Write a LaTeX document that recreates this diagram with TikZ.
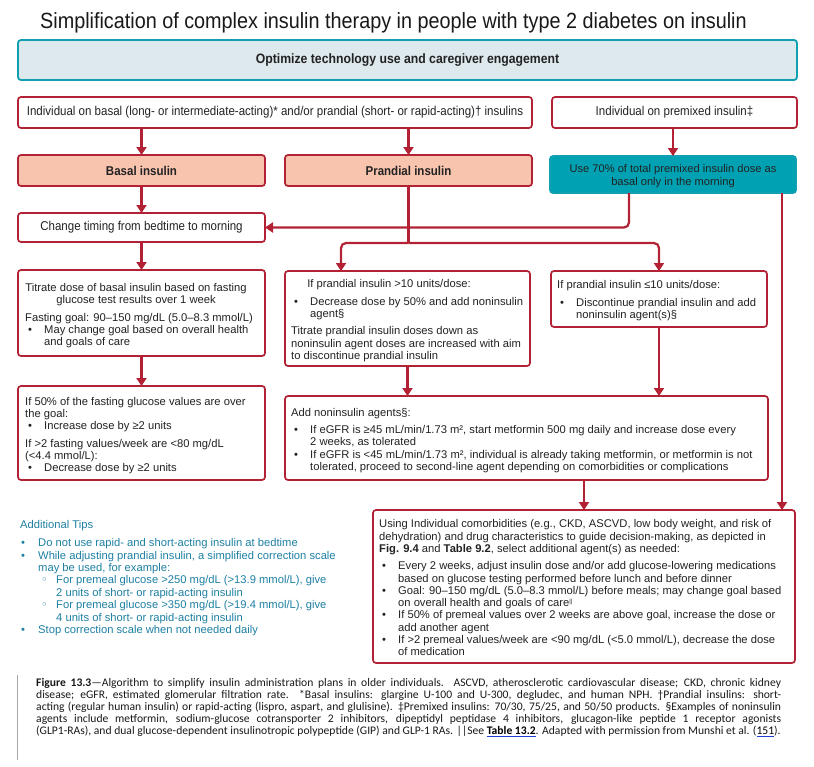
\documentclass[tikz,border=0pt]{standalone}
\usepackage{fontspec}
\setmainfont{Liberation Sans}
\newfontfamily\condfont[FakeStretch=0.9]{Liberation Sans}
\newfontfamily\capfont{Carlito}
\newfontfamily\djv{DejaVu Sans}
\usetikzlibrary{arrows.meta}
\definecolor{redb}{RGB}{178,34,52}
\definecolor{salmon}{RGB}{249,196,174}
\definecolor{tealf}{RGB}{0,161,178}
\definecolor{tealb}{RGB}{16,160,178}
\definecolor{optfill}{RGB}{222,233,238}
\definecolor{tipc}{RGB}{30,128,163}
\definecolor{txt}{RGB}{34,34,34}
\definecolor{linkb}{RGB}{30,60,210}
\newcommand{\myBody}{\fontsize{11.2}{12.3}\selectfont}
\newcommand{\myLab}{\condfont\fontsize{12.8}{15}\selectfont}
\newcommand{\bitem}{\makebox[19pt][l]{\hspace{3pt}•}}
\newcommand{\bpad}{\hspace*{19pt}}
\newcommand{\lnk}[1]{{\color{linkb}\underline{{\color{black}#1}}}}
\tikzset{
  redbox/.style={draw=redb, line width=1.7pt, rounded corners=3pt, fill=white,
    anchor=north west, inner sep=0pt, outer sep=0pt},
  salbox/.style={redbox, fill=salmon},
  tealbox/.style={redbox, draw=tealb, fill=tealf},
  optbox/.style={redbox, draw=tealb, fill=optfill, line width=1.8pt},
  conn/.style={draw=redb, line width=2.2pt},
  arr/.style={conn, -{Triangle[width=10pt,length=8pt]}},
  bodytxt/.style={inner sep=0pt, anchor=north west, align=left, text=txt, font=\myBody},
  labtxt/.style={inner sep=0pt, text=txt, font=\myLab},
}
\begin{document}
\begin{tikzpicture}[x=1pt,y=-1pt]
\useasboundingbox (0,0) rectangle (814,766);
\fill[white] (0,0) rectangle (814,766);

% title
\node[anchor=base, inner sep=0pt, font=\condfont\fontsize{22}{26}\selectfont, text=black!90] (title) at (393.5,28)
  {Simplification of complex insulin therapy in people with type 2 diabetes on insulin};

% boxes
\node[optbox, minimum width=779pt, minimum height=40pt] (opt) at (18,40) {};
\node[redbox, minimum width=514pt, minimum height=31pt] (indiv) at (18,97) {};
\node[redbox, minimum width=245pt, minimum height=31pt] (premix) at (552,97) {};
\node[salbox, minimum width=247pt, minimum height=31pt] (basal) at (18,155) {};
\node[salbox, minimum width=247pt, minimum height=31pt] (prandial) at (285,155) {};
\node[tealbox, minimum width=246pt, minimum height=37pt] (teal) at (550,156) {};
\node[redbox, minimum width=247pt, minimum height=29pt] (change) at (18,213) {};
\node[redbox, minimum width=247pt, minimum height=86pt] (titrate) at (18,270) {};
\node[redbox, minimum width=245pt, minimum height=95pt] (gt10) at (285,271) {};
\node[redbox, minimum width=216pt, minimum height=56pt] (le10) at (551,271) {};
\node[redbox, minimum width=247pt, minimum height=94pt] (fasting) at (18,386) {};
\node[redbox, minimum width=483pt, minimum height=84pt] (addnon) at (285,396) {};
\node[redbox, minimum width=422pt, minimum height=153pt] (using) at (373,510) {};

% labels
\node[labtxt, font=\condfont\fontsize{13.6}{15}\selectfont\bfseries] (optt) at (opt.center) {Optimize technology use and caregiver engagement};
\node[labtxt] (indivt) at (indiv.center) {Individual on basal (long- or intermediate-acting)* and/or prandial (short- or rapid-acting)† insulins};
\node[labtxt] (premixt) at (premix.center) {Individual on premixed insulin‡};
\node[labtxt, font=\myLab\bfseries] (basalt) at (basal.center) {Basal insulin};
\node[labtxt, font=\myLab\bfseries] (prandialt) at (prandial.center) {Prandial insulin};
\node[labtxt] (changet) at (change.center) {Change timing from bedtime to morning};
\node[inner sep=0pt, text=txt, font=\fontsize{11.1}{13.4}\selectfont, align=center, yshift=-1.5pt] (tealt) at (teal.center)
  {Use 70\% of total premixed insulin dose as\\basal only in the morning};

% body texts
\node[bodytxt, anchor=north, align=center] (tit1) at (136,283)
  {Titrate dose of basal insulin based on fasting\\glucose test results over 1 week};
\node[bodytxt] (tit2) at (25,313)
  {Fasting goal: 90–150 mg/dL (5.0–8.3 mmol/L)\\
   \bitem May change goal based on overall health\\
   \bpad and goals of care};
\node[bodytxt] (fast) at (25,397)
  {If 50\% of the fasting glucose values are over\\
   the goal:\\
   \bitem Increase dose by ≥2 units\\[5pt]
   If >2 fasting values/week are <80 mg/dL\\
   (<4.4 mmol/L):\\
   \bitem Decrease dose by ≥2 units};
\node[bodytxt, anchor=north, align=center] (g1) at (389,279) {If prandial insulin >10 units/dose:};
\node[bodytxt] (g2) at (291,297)
  {\bitem Decrease dose by 50\% and add noninsulin\\
   \bpad agent\S\\[5pt]
   Titrate prandial insulin doses down as\\
   noninsulin agent doses are increased with aim\\
   to discontinue prandial insulin};
\node[bodytxt] (l1) at (557,280.5)
  {If prandial insulin ≤10 units/dose:\\[5pt]
   \bitem Discontinue prandial insulin and add\\
   \bpad noninsulin agent(s)\S};
\node[bodytxt] (a1) at (291,408)
  {Add noninsulin agents\S:\\[5pt]
   \bitem If eGFR is ≥45 mL/min/1.73 m², start metformin 500 mg daily and increase dose every\\
   \bpad 2 weeks, as tolerated\\
   \bitem If eGFR is <45 mL/min/1.73 m², individual is already taking metformin, or metformin is not\\
   \bpad tolerated, proceed to second-line agent depending on comorbidities or complications};
\node[bodytxt] (u1) at (379,519.5)
  {Using Individual comorbidities (e.g., CKD, ASCVD, low body weight, and risk of\\
   dehydration) and drug characteristics to guide decision-making, as depicted in\\
   \textbf{Fig. 9.4} and \textbf{Table 9.2}, select additional agent(s) as needed:\\[5pt]
   \bitem Every 2 weeks, adjust insulin dose and/or add glucose-lowering medications\\
   \bpad based on glucose testing performed before lunch and before dinner\\
   \bitem Goal: 90–150 mg/dL (5.0–8.3 mmol/L) before meals; may change goal based\\
   \bpad on overall health and goals of care\raisebox{3pt}{\fontsize{6}{6}\selectfont ||}\\
   \bitem If 50\% of premeal values over 2 weeks are above goal, increase the dose or\\
   \bpad add another agent\\
   \bitem If >2 premeal values/week are <90 mg/dL (<5.0 mmol/L), decrease the dose\\
   \bpad of medication};

% tips
\node[inner sep=0pt, anchor=north west, align=left, text=tipc, font=\fontsize{11.2}{12.4}\selectfont] (tips) at (20,520.5)
  {Additional Tips\\[5.5pt]
   \makebox[18pt][l]{\hspace{1pt}•}Do not use rapid- and short-acting insulin at bedtime\\
   \makebox[18pt][l]{\hspace{1pt}•}While adjusting prandial insulin, a simplified correction scale\\
   \hspace*{18pt}may be used, for example:\\
   \hspace*{21pt}\makebox[15pt][l]{\djv ◦}For premeal glucose >250 mg/dL (>13.9 mmol/L), give\\
   \hspace*{36pt}2 units of short- or rapid-acting insulin\\
   \hspace*{21pt}\makebox[15pt][l]{\djv ◦}For premeal glucose >350 mg/dL (>19.4 mmol/L), give\\
   \hspace*{36pt}4 units of short- or rapid-acting insulin\\
   \makebox[18pt][l]{\hspace{1pt}•}Stop correction scale when not needed daily};

% connectors
\draw[arr] (basal.north |- indiv.south) -- (basal.north);
\draw[arr] (prandial.north |- indiv.south) -- (prandial.north);
\draw[arr] (teal.north |- premix.south) -- (teal.north);
\draw[arr] (basal.south) -- (change.north);
\draw[arr, rounded corners=5pt] ([xshift=-44pt]teal.south) |- (change.east);
\coordinate (tr) at ([xshift=109pt]teal.south);
\draw[arr] (tr) -- (tr |- using.north);
\coordinate (brY) at (0,243);
\coordinate (g10in) at ([xshift=-66.5pt]gt10.north);
\draw[conn] (prandial.south) -- (prandial.south |- brY);
\draw[arr, rounded corners=5pt] (prandial.south |- brY) -| (g10in);
\draw[arr, rounded corners=5pt] (prandial.south |- brY) -| (le10.north);
\draw[arr] (change.south) -- (titrate.north);
\draw[arr] (titrate.south) -- (fasting.north);
\draw[arr] (gt10.south) -- (gt10.south |- addnon.north);
\draw[arr] (le10.south) -- (le10.south |- addnon.north);
\draw[arr] (using.north |- addnon.south) -- (using.north);

% caption
\draw[gray!70, line width=1pt] (17,675) -- (17,760);
\node[anchor=north west, inner sep=0pt, text width=745pt, align=justify, text=black!90,
      font=\capfont\fontsize{11.6}{11.9}\selectfont] (cap) at (36,678.5)
  {\noindent\textbf{Figure 13.3}—Algorithm to simplify insulin administration plans in older individuals. ASCVD, atherosclerotic cardiovascular disease; CKD, chronic kidney\linebreak
   disease; eGFR, estimated glomerular filtration rate. *Basal insulins: glargine U-100 and U-300, degludec, and human NPH. †Prandial insulins: short-\linebreak
   acting (regular human insulin) or rapid-acting (lispro, aspart, and glulisine). ‡Premixed insulins: 70/30, 75/25, and 50/50 products. \S Examples of noninsulin\linebreak
   agents include metformin, sodium-glucose cotransporter 2 inhibitors, dipeptidyl peptidase 4 inhibitors, glucagon-like peptide 1 receptor agonists\linebreak
   (GLP1-RAs), and dual glucose-dependent insulinotropic polypeptide (GIP) and GLP-1 RAs. ||See \lnk{\textbf{Table 13.2}}. Adapted with permission from Munshi et al. (\lnk{151}).};
\end{tikzpicture}
\end{document}
